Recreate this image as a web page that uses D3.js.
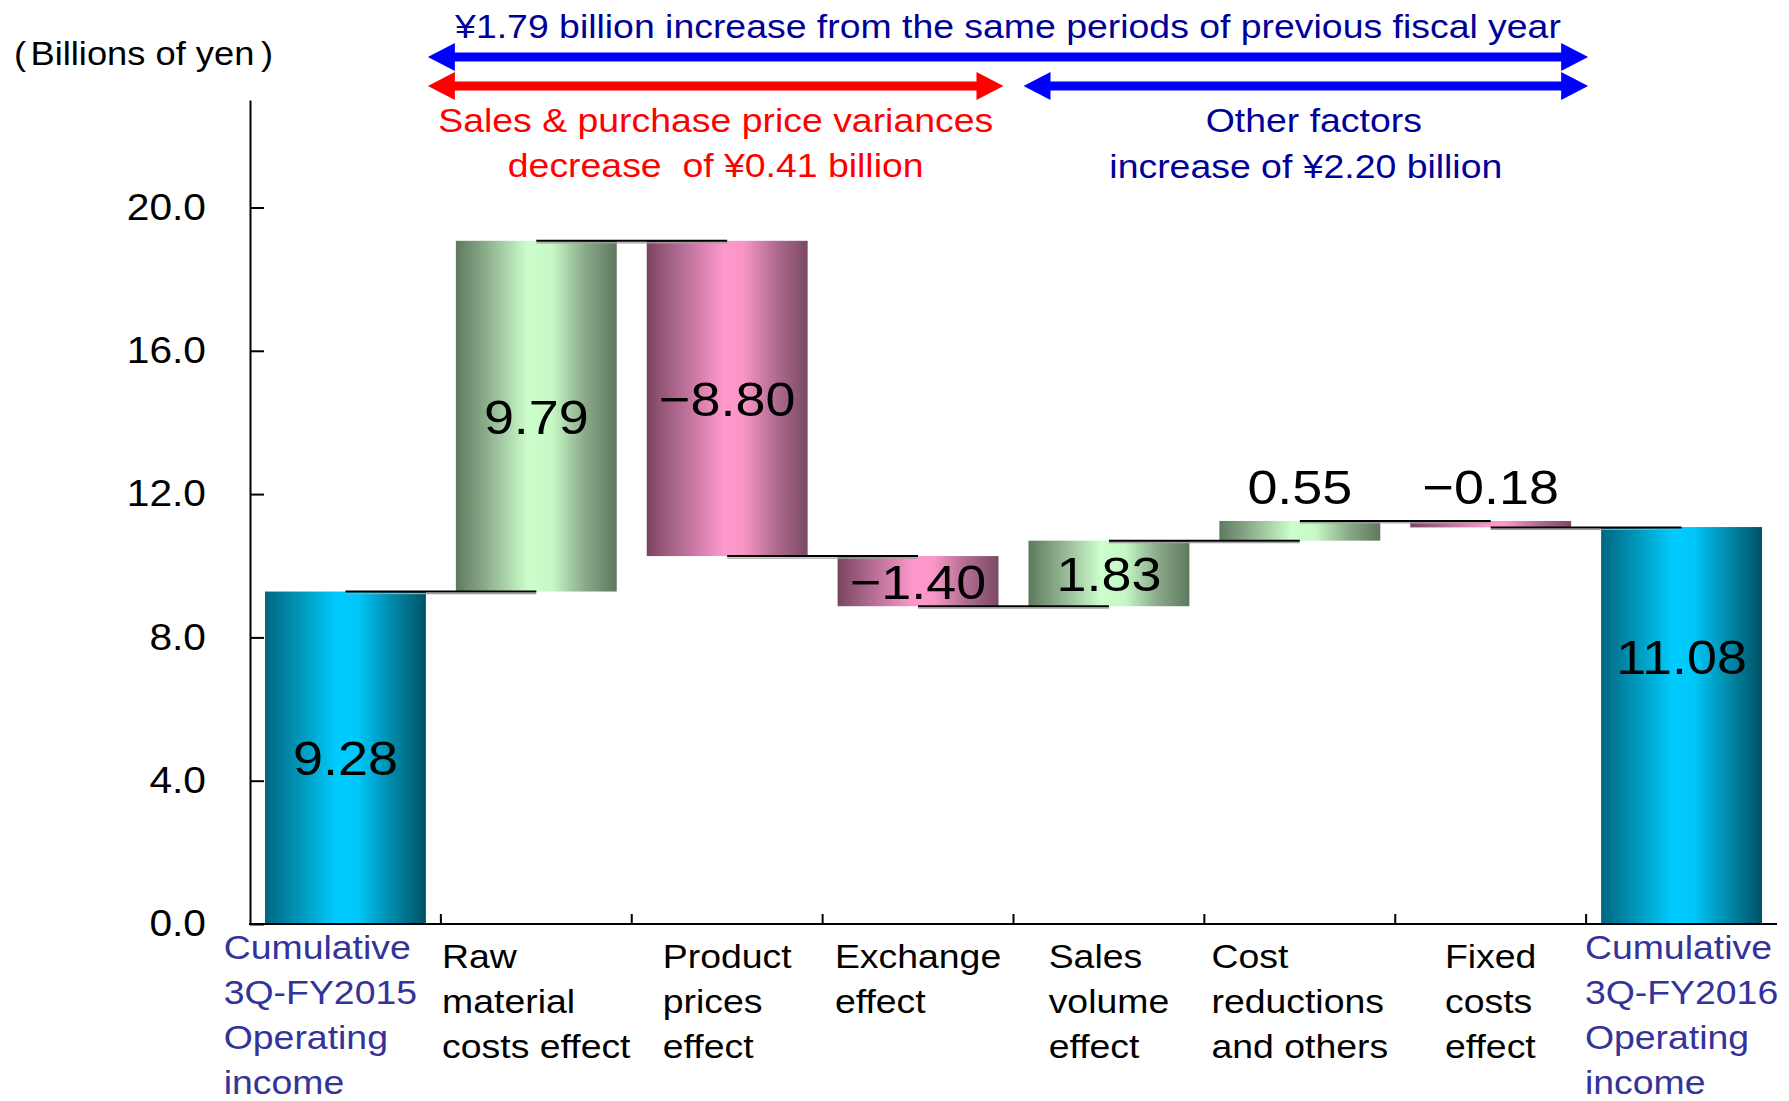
<!DOCTYPE html>
<html>
<head>
<meta charset="utf-8">
<script src="https://cdn.jsdelivr.net/npm/d3@7"></script>
<style>
  body { margin: 0; background: #fff; }
  svg { display: block; }
  text { font-family: "Liberation Sans", Arial, sans-serif; white-space: pre; }
</style>
</head>
<body>
<svg id="chart" width="1789" height="1101"></svg>
<script>
// ---- data -------------------------------------------------------------
const categories = [
  "Cumulative 3Q-FY2015 Operating income",
  "Raw material costs effect",
  "Product prices effect",
  "Exchange effect",
  "Sales volume effect",
  "Cost reductions and others",
  "Fixed costs effect",
  "Cumulative 3Q-FY2016 Operating income"
];
const categoryLines = [
  ["Cumulative", "3Q-FY2015", "Operating", "income"],
  ["Raw", "material", "costs effect"],
  ["Product", "prices", "effect"],
  ["Exchange", "effect"],
  ["Sales", "volume", "effect"],
  ["Cost", "reductions", "and others"],
  ["Fixed", "costs", "effect"],
  ["Cumulative", "3Q-FY2016", "Operating", "income"]
];
const values = [9.28, 9.79, -8.80, -1.40, 1.83, 0.55, -0.18, 11.08];
const kinds  = ["total", "change", "change", "change", "change", "change", "change", "total"];
const yTickValues = [0, 4, 8, 12, 16, 20];
const yMax = 23;

const unitLabel = ["(", "Billions of yen", ")"];
const headline = "¥1.79 billion increase from the same periods of previous fiscal year";
const priceNote = ["Sales & purchase price variances", "decrease  of ¥0.41 billion"];
const otherNote = ["Other factors", "increase of ¥2.20 billion"];
// categories grouped under each bracket arrow (first, last index)
const priceGroup = [1, 3];
const otherGroup = [4, 6];

// ---- layout -------------------------------------------------------------
const SX = 1.1;               // horizontal text stretch
const svg = d3.select("#chart");
const plotLeft = 250, plotRight = 1777, plotTop = 100, plotBottom = 924;

const x = d3.scaleBand()
  .domain(categories)
  .range([plotLeft, plotRight])
  .paddingInner(0.157)
  .paddingOuter(0.0785);
const y = d3.scaleLinear().domain([0, yMax]).range([plotBottom, plotTop]);
const step = x.step();
const cx = i => x(categories[i]) + x.bandwidth() / 2;
const boundary = k => plotLeft + k * step;

function stretch(sel) {
  sel.each(function () {
    const t = d3.select(this);
    const tx = +t.attr("x") || 0, ty = +t.attr("y") || 0;
    t.attr("x", 0).attr("y", 0)
     .attr("transform", `translate(${tx},${ty}) scale(${SX},1)`);
  });
}

// ---- gradients ----------------------------------------------------------
const defs = svg.append("defs");
function grad(id, stops) {
  const g = defs.append("linearGradient").attr("id", id)
    .attr("x1", 0).attr("x2", 1).attr("y1", 0).attr("y2", 0);
  stops.forEach(([o, c]) => g.append("stop").attr("offset", o).attr("stop-color", c));
}
grad("gTotal", [[0, "#006680"], [0.2, "#0093B5"], [0.45, "#00CCFF"], [0.58, "#00C6F8"], [0.8, "#0087A6"], [1, "#005266"]]);
grad("gUp",    [[0, "#5E7A5E"], [0.2, "#8FB08F"], [0.45, "#CCFFCC"], [0.6, "#C6F8C6"], [0.8, "#8AAA8A"], [1, "#5E785E"]]);
grad("gDown",  [[0, "#7A4560"], [0.2, "#B06A90"], [0.48, "#FF99CC"], [0.6, "#F896C6"], [0.8, "#B06C90"], [1, "#7A4A62"]]);

// ---- waterfall steps ----------------------------------------------------
let run = 0;
const steps = values.map((v, i) => {
  let s;
  if (kinds[i] === "total") { s = { i, v, y0: 0, y1: v }; run = v; }
  else { s = { i, v, y0: run, y1: run + v }; run += v; }
  s.end = run;
  return s;
});

// bars
svg.append("g").selectAll("rect").data(steps).join("rect")
  .attr("x", d => x(categories[d.i]))
  .attr("width", x.bandwidth())
  .attr("y", d => y(Math.max(d.y0, d.y1)))
  .attr("height", d => Math.abs(y(d.y0) - y(d.y1)))
  .attr("fill", d => kinds[d.i] === "total" ? "url(#gTotal)" : (d.v >= 0 ? "url(#gUp)" : "url(#gDown)"));

// connectors between consecutive bars (with a faint shadow underneath)
const conn = svg.append("g");
conn.selectAll("line.sh").data(steps.slice(0, -1)).join("line")
  .attr("class", "sh")
  .attr("x1", d => cx(d.i)).attr("x2", d => cx(d.i + 1))
  .attr("y1", d => y(d.end) + 2).attr("y2", d => y(d.end) + 2)
  .attr("stroke", "#a0a0a0").attr("stroke-width", 1.2);
conn.selectAll("line.cn").data(steps.slice(0, -1)).join("line")
  .attr("class", "cn")
  .attr("x1", d => cx(d.i)).attr("x2", d => cx(d.i + 1))
  .attr("y1", d => y(d.end)).attr("y2", d => y(d.end))
  .attr("stroke", "#000").attr("stroke-width", 2);

// ---- axes ---------------------------------------------------------------
const yAxis = svg.append("g").attr("transform", `translate(${plotLeft},0)`)
  .call(d3.axisLeft(y).tickValues(yTickValues).tickFormat(d3.format(".1f"))
    .tickSizeInner(-14).tickSizeOuter(0).tickPadding(44));
yAxis.select(".domain").attr("stroke-width", 2);
yAxis.selectAll(".tick line").attr("stroke-width", 2);
yAxis.selectAll("text").attr("font-size", 37).attr("fill", "#000")
  .attr("font-family", "Liberation Sans, Arial, sans-serif").call(stretch);

const xAxis = svg.append("g");
xAxis.append("line").attr("x1", plotLeft - 1).attr("x2", plotRight)
  .attr("y1", plotBottom).attr("y2", plotBottom).attr("stroke", "#000").attr("stroke-width", 2);
xAxis.selectAll("line.tk").data(d3.range(1, categories.length)).join("line")
  .attr("class", "tk")
  .attr("x1", k => boundary(k)).attr("x2", k => boundary(k))
  .attr("y1", plotBottom).attr("y2", plotBottom - 10)
  .attr("stroke", "#000").attr("stroke-width", 2);

// category labels: left-aligned line blocks centred on each band,
// pushed left where a block would crowd its right-hand neighbour
const catG = svg.append("g");
const blocks = categoryLines.map((lines, i) => {
  const g = catG.append("g");
  const y0 = lines.length > 3 ? 959 : 968;
  const texts = lines.map((ln, j) => g.append("text")
    .attr("y", y0 + j * 45)
    .attr("font-size", 34)
    .attr("fill", kinds[i] === "total" ? "#333399" : "#000")
    .text(ln));
  const w = d3.max(texts, t => t.node().getComputedTextLength()) * SX;
  return { texts, w, left: cx(i) - w / 2 };
});
for (let i = blocks.length - 2; i >= 0; i--) {
  const gap = 25, limit = blocks[i + 1].left - gap;
  if (blocks[i].left + blocks[i].w > limit) blocks[i].left = limit - blocks[i].w;
}
blocks.forEach(b => b.texts.forEach(t => t.attr("x", b.left).call(stretch)));

// unit label
const unit = svg.append("text").attr("x", 14).attr("y", 65).attr("font-size", 33).attr("fill", "#000");
unit.append("tspan").text(unitLabel[0]);
unit.append("tspan").attr("dx", 4).text(unitLabel[1]);
unit.append("tspan").attr("dx", 6).text(unitLabel[2]);
unit.call(stretch);

// ---- value labels -------------------------------------------------------
const fmt = d3.format(".2f");
const labelY = d => {
  const lo = Math.min(d.y0, d.y1), hi = Math.max(d.y0, d.y1);
  if (kinds[d.i] === "change" && hi - lo < 1) return y(hi) - 35;       // small change: above bar
  if (d.i === steps.length - 1) return y(lo + (hi - lo) * 0.675);      // closing total
  return y((lo + hi) / 2);
};
svg.append("g").selectAll("text").data(steps).join("text")
  .attr("x", d => cx(d.i))
  .attr("y", d => labelY(d))
  .attr("dy", "0.36em")
  .attr("text-anchor", "middle")
  .attr("font-size", 49)
  .attr("fill", "#000")
  .text(d => fmt(d.v))
  .call(stretch);

// ---- bracket arrows and notes ------------------------------------------
function arrow(x0, x1, yc, color) {
  const h = 4.5, H = 14, L = 27;
  const p = d3.path();
  p.moveTo(x0, yc);
  p.lineTo(x0 + L, yc - H); p.lineTo(x0 + L, yc - h);
  p.lineTo(x1 - L, yc - h); p.lineTo(x1 - L, yc - H);
  p.lineTo(x1, yc);
  p.lineTo(x1 - L, yc + H); p.lineTo(x1 - L, yc + h);
  p.lineTo(x0 + L, yc + h); p.lineTo(x0 + L, yc + H);
  p.closePath();
  svg.append("path").attr("d", p.toString()).attr("fill", color);
}
const spanL = boundary(1) - 13;
const spanR = boundary(categories.length - 1) + 2;
const priceR = boundary(priceGroup[1] + 1) - 10;
const otherL = boundary(otherGroup[0]) + 10;

arrow(spanL, spanR, 57, "#0000FF");
arrow(spanL, priceR, 86, "#FF0000");
arrow(otherL, spanR, 86, "#0000FF");

svg.append("text").attr("x", (spanL + spanR) / 2).attr("y", 38)
  .attr("text-anchor", "middle").attr("font-size", 34).attr("fill", "#000099")
  .text(headline).call(stretch);

priceNote.forEach((t, j) => svg.append("text")
  .attr("x", (spanL + priceR) / 2).attr("y", 132 + j * 45)
  .attr("text-anchor", "middle").attr("font-size", 34).attr("fill", "#FF0000")
  .text(t).call(stretch));

otherNote.forEach((t, j) => svg.append("text")
  .attr("x", (otherL + spanR) / 2 + (j === 0 ? 8 : 0)).attr("y", 132 + j * 46)
  .attr("text-anchor", "middle").attr("font-size", 34).attr("fill", "#000099")
  .text(t).call(stretch));
</script>
</body>
</html>
